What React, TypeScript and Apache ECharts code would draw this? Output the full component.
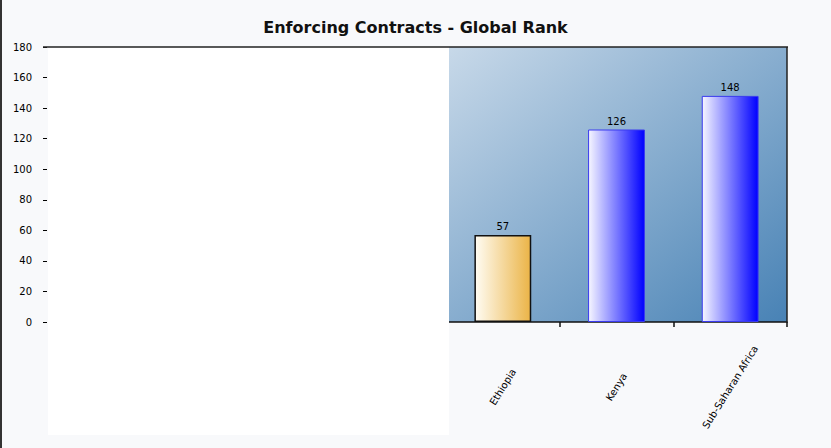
import React, { useEffect, useRef } from "react";
import * as echarts from "echarts";

const categories = ["Ethiopia", "Kenya", "Sub-Saharan Africa"];
const ranks = [57, 126, 148];
const yMin = 0;
const yMax = 180;
const yStep = 20;
const titleText = "Enforcing Contracts - Global Rank";

const goldFill = new echarts.graphic.LinearGradient(0, 0, 1, 0, [
  { offset: 0, color: "#fffcf3" },
  { offset: 1, color: "#ebb447" },
]);
const blueFill = () =>
  new echarts.graphic.LinearGradient(0, 0, 1, 0, [
    { offset: 0, color: "#f6f6ff" },
    { offset: 1, color: "#0000ff" },
  ]);

export default function App() {
  const ref = useRef<HTMLDivElement>(null);
  useEffect(() => {
    if (!ref.current) return;
    const chart = echarts.init(ref.current, null, { renderer: "svg" });
    chart.setOption({
      animation: false,
      backgroundColor: "#f8f9fb",
      title: {
        text: titleText,
        left: "center",
        top: 14,
        textStyle: { fontFamily: "DejaVu Sans", fontSize: 16, fontWeight: "bold", color: "#111" },
      },
      grid: {
        left: 446,
        right: 44,
        top: 47,
        bottom: 126,
        show: true,
        borderWidth: 0,
        backgroundColor: new echarts.graphic.LinearGradient(0, 0, 1, 1, [
          { offset: 0, color: "#c8d9e9" },
          { offset: 1, color: "#4882b5" },
        ]),
      },
      xAxis: {
        type: "category",
        data: categories,
        axisLine: { show: true, lineStyle: { color: "#111", width: 1.5 } },
        axisTick: { show: true, length: 5, lineStyle: { color: "#111", width: 1.5 } },
        axisLabel: {
          rotate: 58,
          align: "center",
          verticalAlign: "middle",
          margin: 65,
          fontSize: 10,
          fontFamily: "DejaVu Sans",
          color: "#000",
        },
      },
      yAxis: {
        type: "value",
        min: yMin,
        max: yMax,
        interval: yStep,
        offset: 399,
        splitLine: { show: false },
        axisLine: { show: true, lineStyle: { color: "rgba(0,0,0,0)" } },
        axisTick: { show: true, length: 4, lineStyle: { color: "#000" } },
        axisLabel: { fontSize: 10, fontFamily: "DejaVu Sans", color: "#000", margin: 15 },
      },
      series: [
        {
          type: "bar",
          barWidth: "50%",
          data: ranks.map((v, i) => ({
            value: v,
            itemStyle:
              i === 0
                ? { color: goldFill, borderColor: "#111", borderWidth: 1.5 }
                : { color: blueFill(), borderColor: "#3a3af0", borderWidth: 1 },
          })),
          label: {
            show: true,
            position: "top",
            distance: 3,
            fontSize: 10,
            fontFamily: "DejaVu Sans",
            color: "#000",
          },
        },
      ],
      graphic: [
        { type: "rect", shape: { x: 0, y: 0, width: 2, height: 448 }, style: { fill: "#333" }, z: 10 },
        { type: "rect", shape: { x: 48, y: 47, width: 401, height: 388 }, style: { fill: "#ffffff" }, z: 5 },
        { type: "line", shape: { x1: 43, y1: 47, x2: 788, y2: 47 }, style: { stroke: "#222", lineWidth: 1.5 }, z: 10 },
        { type: "line", shape: { x1: 787, y1: 47, x2: 787, y2: 323 }, style: { stroke: "#222", lineWidth: 1.5 }, z: 10 },
      ],
    });
    return () => chart.dispose();
  }, []);
  return (
    <div
      ref={ref}
      style={{ position: "fixed", left: 0, top: 0, width: 831, height: 448 }}
    />
  );
}
